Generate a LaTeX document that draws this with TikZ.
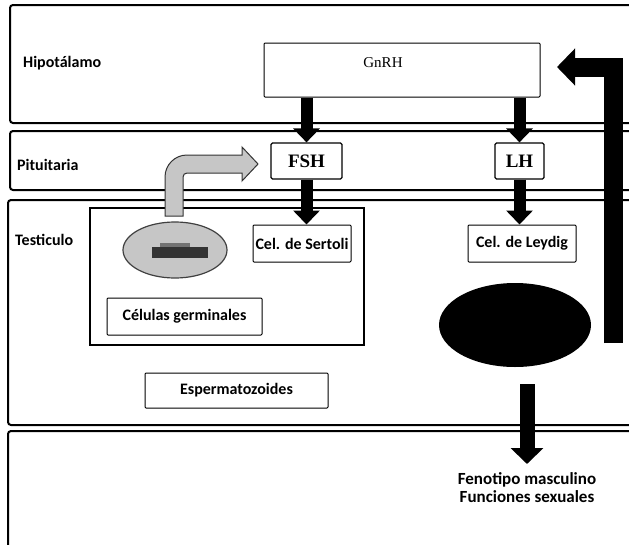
\documentclass[tikz,border=0pt]{standalone}
\usepackage{fontspec}
\setmainfont{Carlito}
\newfontfamily\seriffont{Liberation Serif}
\usetikzlibrary{arrows.meta,shapes.geometric}
\begin{document}
\begin{tikzpicture}[x=1pt,y=-1pt,
  band/.style={draw=black,line width=2pt,rounded corners=3pt},
  box/.style={draw=black,line width=1pt,rounded corners=1pt,inner sep=0pt,
    font=\fontsize{16}{18}\selectfont\bfseries},
  hbox/.style={draw=black,line width=1.2pt,rounded corners=1.5pt,inner sep=0pt,
    font=\seriffont\fontsize{19}{21}\selectfont\bfseries},
  lbl/.style={anchor=west,inner sep=0pt,font=\fontsize{16}{18}\selectfont\bfseries},
  downarrow/.style={line width=12pt,-{Triangle[width=26pt,length=14pt]}},
  outarrow/.style={line width=15pt,-{Triangle[width=32pt,length=16pt]}},
  backarrow/.style={line width=19pt,line join=miter,-{Triangle[width=36pt,length=18pt]}}]
\useasboundingbox (0,0) rectangle (629,544);
\fill[white] (0,0) rectangle (629,544);
\clip (0,0) rectangle (629,544);

% bands
\draw[band] (10,5) rectangle (660,123);
\draw[band] (10,131) rectangle (660,190);
\draw[band] (8,200) rectangle (660,425);
\draw[band] (8,431) rectangle (660,580);

\node[lbl] (hip) at (23,63) {Hipotálamo};
\node[lbl] (pit) at (17,165) {Pituitaria};
\node[lbl] (tes) at (15,240) {Testiculo};

% germinal compartment
\draw[line width=1.5pt] (90,208) rectangle (364,345);

% boxes
\node[box,minimum width=276pt,minimum height=54pt] (gnrh) at (402,70) {};
\node[inner sep=0pt,font=\seriffont\fontsize{15}{17}\selectfont] (gnrht) at (383,63) {GnRH};
\node[hbox,minimum width=71pt,minimum height=36pt] (fsh) at (306.5,161) {FSH};
\node[hbox,minimum width=49pt,minimum height=36pt] (lh) at (519.5,161) {LH};
\node[box,minimum width=98pt,minimum height=37pt] (sertoli) at (302,243.5) {Cel. de Sertoli};
\node[box,minimum width=108pt,minimum height=37pt] (leydig) at (522,243.5) {Cel. de Leydig};
\node[box,minimum width=155pt,minimum height=37pt] (germ) at (184.5,316.5) {Células germinales};
\node[box,minimum width=183pt,minimum height=35pt] (esp) at (236.5,390.5) {Espermatozoides};

% ellipses
\node[ellipse,draw=black!75,line width=1.2pt,fill=gray!45,minimum width=104pt,minimum height=56pt,inner sep=0pt] (inh) at (175,250) {};
\fill[black!80] (152,247) rectangle (208,258);
\fill[black!55] (160,243) rectangle (190,247);
\node[ellipse,fill=black,minimum width=152pt,minimum height=84pt,inner sep=0pt] (test) at (515,325) {};

% gray curved arrow
\filldraw[fill=gray!45,draw=gray!40!black,line width=1pt]
  (165,216) -- (165,177) arc[start angle=180,end angle=90,radius=22pt]
  -- (242,155) -- (242,147) -- (258,164) -- (242,181) -- (242,173)
  -- (187,173) arc[start angle=90,end angle=180,radius=4pt] -- (183,216) -- cycle;

% connectors
\draw[downarrow] (fsh.north |- gnrh.south) -- (fsh.north);
\draw[downarrow] (lh.north |- gnrh.south) -- (lh.north);
\draw[downarrow] (fsh.south) -- (fsh.south |- sertoli.north);
\draw[downarrow] (lh.south) -- (lh.south |- leydig.north);

\coordinate (outstart) at (527,384);
\node[inner sep=0pt,align=center,font=\fontsize{17}{18}\selectfont\bfseries] (feno) at (527,488) {Fenotipo masculino\\Funciones sexuales};
\draw[outarrow] (outstart) -- (527,464);

\coordinate (backstart) at (613,343);
\coordinate (backtip) at (557,67);
\draw[backarrow] (backstart) |- (backtip);
\end{tikzpicture}
\end{document}
